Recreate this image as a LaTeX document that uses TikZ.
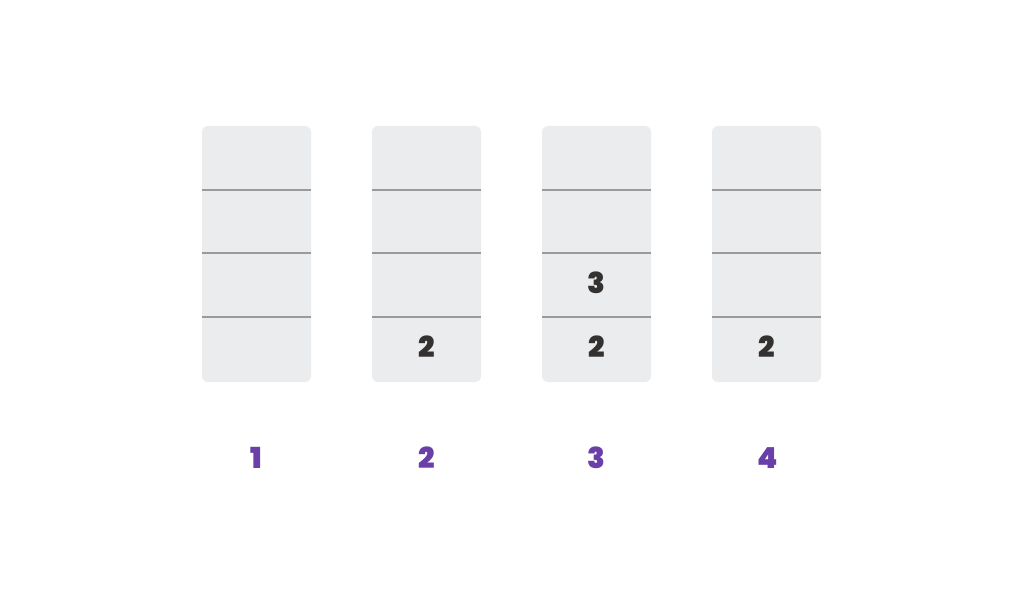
\documentclass[tikz,border=0pt]{standalone}
\usepackage{fontspec}
\newfontfamily\heavy{Poppins Black}
\definecolor{boxfill}{HTML}{EBECEE}
\definecolor{divider}{HTML}{9A9A9A}
\definecolor{digit}{HTML}{333230}
\definecolor{purp}{HTML}{6A40A8}
\begin{document}
\begin{tikzpicture}[x=1pt,y=-1pt,
  colbox/.style={fill=boxfill,rounded corners=6pt},
  divline/.style={draw=divider,line width=1.6pt},
  cell/.style={font=\heavy\fontsize{29}{29}\selectfont,text=digit,inner sep=0pt,anchor=center},
  lbl/.style={font=\heavy\fontsize{29}{29}\selectfont,text=purp,inner sep=0pt,anchor=center}]
\useasboundingbox[fill=white] (0,0) rectangle (1024,612);
\foreach \i/\x in {1/202,2/372,3/542,4/712}{
  \fill[colbox] (\x,126) rectangle ++(109,256);
  \foreach \yy in {190,253,317}
    \draw[divline] (\x,\yy) -- ++(109,0);
  \coordinate (c\i) at (\x+54.5,0);
}
\node[cell] (n2) at (426.5,347) {2};
\node[cell] (n3a) at (596.5,283) {3};
\node[cell] (n3b) at (596.5,347) {2};
\node[cell] (n4) at (766.5,347) {2};
\node[lbl] (l1) at (256.5,458) {1};
\node[lbl] (l2) at (426.5,458) {2};
\node[lbl] (l3) at (596.5,458) {3};
\node[lbl] (l4) at (767.5,458) {4};
\end{tikzpicture}
\end{document}
